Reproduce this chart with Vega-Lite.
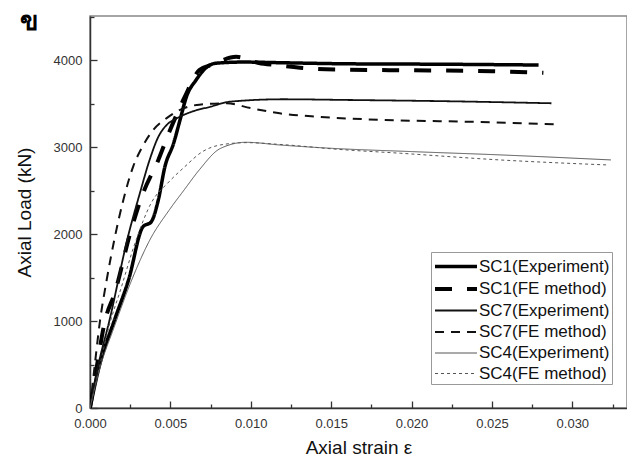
{
  "$schema": "https://vega.github.io/schema/vega-lite/v6.json",
  "autosize": {"type": "none"},
  "padding": {"left": 90, "top": 16, "right": 0, "bottom": 56},
  "width": 537,
  "height": 392,
  "background": "white",
  "config": {
    "view": {"stroke": "#888", "strokeWidth": 1.5},
    "font": "Liberation Sans"
  },
  "title": {
    "text": "ข",
    "anchor": "start",
    "frame": "group",
    "dx": -70,
    "dy": 41,
    "offset": 0,
    "baseline": "alphabetic",
    "fontSize": 27,
    "fontWeight": "bold",
    "font": "DejaVu Sans",
    "color": "#000"
  },
  "data": {
    "values": [
      {"s": "SC1(Experiment)", "x": 0, "y": 0},
      {"s": "SC1(Experiment)", "x": 0.0006, "y": 500},
      {"s": "SC1(Experiment)", "x": 0.0015, "y": 1000},
      {"s": "SC1(Experiment)", "x": 0.0024, "y": 1475},
      {"s": "SC1(Experiment)", "x": 0.0033, "y": 2087},
      {"s": "SC1(Experiment)", "x": 0.0038, "y": 2140},
      {"s": "SC1(Experiment)", "x": 0.00425, "y": 2394},
      {"s": "SC1(Experiment)", "x": 0.00466, "y": 2777},
      {"s": "SC1(Experiment)", "x": 0.0052, "y": 3046},
      {"s": "SC1(Experiment)", "x": 0.0056, "y": 3314},
      {"s": "SC1(Experiment)", "x": 0.006, "y": 3582},
      {"s": "SC1(Experiment)", "x": 0.0066, "y": 3774},
      {"s": "SC1(Experiment)", "x": 0.0073, "y": 3927},
      {"s": "SC1(Experiment)", "x": 0.0078, "y": 3966},
      {"s": "SC1(Experiment)", "x": 0.0095, "y": 3980},
      {"s": "SC1(Experiment)", "x": 0.012, "y": 3972},
      {"s": "SC1(Experiment)", "x": 0.016, "y": 3960},
      {"s": "SC1(Experiment)", "x": 0.022, "y": 3955},
      {"s": "SC1(Experiment)", "x": 0.0279, "y": 3946},

      {"s": "SC1(FE method)", "x": 0, "y": 0},
      {"s": "SC1(FE method)", "x": 0.0004, "y": 450},
      {"s": "SC1(FE method)", "x": 0.00093, "y": 1000},
      {"s": "SC1(FE method)", "x": 0.00155, "y": 1330},
      {"s": "SC1(FE method)", "x": 0.0025, "y": 2011},
      {"s": "SC1(FE method)", "x": 0.0033, "y": 2471},
      {"s": "SC1(FE method)", "x": 0.00425, "y": 2854},
      {"s": "SC1(FE method)", "x": 0.0049, "y": 3161},
      {"s": "SC1(FE method)", "x": 0.0059, "y": 3582},
      {"s": "SC1(FE method)", "x": 0.0068, "y": 3888},
      {"s": "SC1(FE method)", "x": 0.0076, "y": 3950},
      {"s": "SC1(FE method)", "x": 0.0091, "y": 4040},
      {"s": "SC1(FE method)", "x": 0.0105, "y": 3970},
      {"s": "SC1(FE method)", "x": 0.0116, "y": 3946},
      {"s": "SC1(FE method)", "x": 0.0135, "y": 3908},
      {"s": "SC1(FE method)", "x": 0.016, "y": 3892},
      {"s": "SC1(FE method)", "x": 0.02, "y": 3885},
      {"s": "SC1(FE method)", "x": 0.025, "y": 3875},
      {"s": "SC1(FE method)", "x": 0.0282, "y": 3857},

      {"s": "SC7(Experiment)", "x": 0, "y": 0},
      {"s": "SC7(Experiment)", "x": 0.0005, "y": 480},
      {"s": "SC7(Experiment)", "x": 0.0012, "y": 1000},
      {"s": "SC7(Experiment)", "x": 0.0024, "y": 2000},
      {"s": "SC7(Experiment)", "x": 0.0031, "y": 2470},
      {"s": "SC7(Experiment)", "x": 0.0037, "y": 2850},
      {"s": "SC7(Experiment)", "x": 0.00425, "y": 3120},
      {"s": "SC7(Experiment)", "x": 0.00477, "y": 3257},
      {"s": "SC7(Experiment)", "x": 0.0054, "y": 3333},
      {"s": "SC7(Experiment)", "x": 0.0062, "y": 3400},
      {"s": "SC7(Experiment)", "x": 0.0075, "y": 3467},
      {"s": "SC7(Experiment)", "x": 0.0087, "y": 3524},
      {"s": "SC7(Experiment)", "x": 0.012, "y": 3552},
      {"s": "SC7(Experiment)", "x": 0.016, "y": 3544},
      {"s": "SC7(Experiment)", "x": 0.022, "y": 3530},
      {"s": "SC7(Experiment)", "x": 0.0287, "y": 3506},

      {"s": "SC7(FE method)", "x": 0, "y": 0},
      {"s": "SC7(FE method)", "x": 0.0003, "y": 500},
      {"s": "SC7(FE method)", "x": 0.00062, "y": 1000},
      {"s": "SC7(FE method)", "x": 0.00104, "y": 1475},
      {"s": "SC7(FE method)", "x": 0.00155, "y": 1970},
      {"s": "SC7(FE method)", "x": 0.00207, "y": 2390},
      {"s": "SC7(FE method)", "x": 0.00269, "y": 2780},
      {"s": "SC7(FE method)", "x": 0.00321, "y": 2990},
      {"s": "SC7(FE method)", "x": 0.00394, "y": 3200},
      {"s": "SC7(FE method)", "x": 0.00477, "y": 3335},
      {"s": "SC7(FE method)", "x": 0.0056, "y": 3430},
      {"s": "SC7(FE method)", "x": 0.0068, "y": 3490},
      {"s": "SC7(FE method)", "x": 0.0085, "y": 3505},
      {"s": "SC7(FE method)", "x": 0.01, "y": 3450},
      {"s": "SC7(FE method)", "x": 0.0118, "y": 3390},
      {"s": "SC7(FE method)", "x": 0.0143, "y": 3350},
      {"s": "SC7(FE method)", "x": 0.019, "y": 3310},
      {"s": "SC7(FE method)", "x": 0.0234, "y": 3294},
      {"s": "SC7(FE method)", "x": 0.0291, "y": 3264},

      {"s": "SC4(Experiment)", "x": 0, "y": 0},
      {"s": "SC4(Experiment)", "x": 0.0006, "y": 450},
      {"s": "SC4(Experiment)", "x": 0.0015, "y": 930},
      {"s": "SC4(Experiment)", "x": 0.0026, "y": 1475},
      {"s": "SC4(Experiment)", "x": 0.0038, "y": 1960},
      {"s": "SC4(Experiment)", "x": 0.0049, "y": 2270},
      {"s": "SC4(Experiment)", "x": 0.0059, "y": 2520},
      {"s": "SC4(Experiment)", "x": 0.0068, "y": 2740},
      {"s": "SC4(Experiment)", "x": 0.0081, "y": 2985},
      {"s": "SC4(Experiment)", "x": 0.0097, "y": 3057},
      {"s": "SC4(Experiment)", "x": 0.0118, "y": 3026},
      {"s": "SC4(Experiment)", "x": 0.0149, "y": 2989},
      {"s": "SC4(Experiment)", "x": 0.02, "y": 2950},
      {"s": "SC4(Experiment)", "x": 0.0255, "y": 2912},
      {"s": "SC4(Experiment)", "x": 0.0324, "y": 2854},

      {"s": "SC4(FE method)", "x": 0, "y": 0},
      {"s": "SC4(FE method)", "x": 0.0006, "y": 480},
      {"s": "SC4(FE method)", "x": 0.0012, "y": 950},
      {"s": "SC4(FE method)", "x": 0.0019, "y": 1360},
      {"s": "SC4(FE method)", "x": 0.0028, "y": 1897},
      {"s": "SC4(FE method)", "x": 0.0038, "y": 2356},
      {"s": "SC4(FE method)", "x": 0.0049, "y": 2600},
      {"s": "SC4(FE method)", "x": 0.0059, "y": 2777},
      {"s": "SC4(FE method)", "x": 0.007, "y": 2950},
      {"s": "SC4(FE method)", "x": 0.0081, "y": 3026},
      {"s": "SC4(FE method)", "x": 0.0097, "y": 3053},
      {"s": "SC4(FE method)", "x": 0.012, "y": 3030},
      {"s": "SC4(FE method)", "x": 0.0155, "y": 2975},
      {"s": "SC4(FE method)", "x": 0.0193, "y": 2931},
      {"s": "SC4(FE method)", "x": 0.0255, "y": 2854},
      {"s": "SC4(FE method)", "x": 0.0321, "y": 2797}
    ]
  },
  "mark": {"type": "line", "interpolate": "monotone", "clip": true},
  "encoding": {
    "x": {
      "field": "x",
      "type": "quantitative",
      "scale": {"domain": [0, 0.0334], "nice": false, "zero": false},
      "axis": {
        "title": "Axial strain ε",
        "titleFontSize": 19,
        "titleFontWeight": "normal",
        "titleColor": "#111",
        "titlePadding": 8,
        "values": [0, 0.0025, 0.005, 0.0075, 0.01, 0.0125, 0.015, 0.0175, 0.02, 0.0225, 0.025, 0.0275, 0.03, 0.0325],
        "format": ".3f",
        "labelExpr": "round(datum.value * 10000) % 50 === 0 ? datum.label : ''",
        "labelFontSize": 13,
        "labelColor": "#333",
        "labelPadding": 16,
        "labelFlush": false,
        "grid": false,
        "domainColor": "#333",
        "domainWidth": 1.5,
        "tickColor": "#333",
        "tickWidth": 1.3,
        "tickSize": {"condition": {"test": "round(datum.value * 10000) % 50 === 0", "value": -7}, "value": -4}
      }
    },
    "y": {
      "field": "y",
      "type": "quantitative",
      "scale": {"domain": [0, 4510], "nice": false},
      "axis": {
        "title": "Axial Load (kN)",
        "titleFontSize": 19,
        "titleFontWeight": "normal",
        "titleColor": "#111",
        "titlePadding": 19,
        "values": [0, 500, 1000, 1500, 2000, 2500, 3000, 3500, 4000, 4500],
        "labelExpr": "datum.value % 1000 === 0 ? datum.label : ''",
        "format": "d",
        "labelFontSize": 13,
        "labelColor": "#333",
        "labelPadding": 15,
        "labelFlush": false,
        "grid": false,
        "domainColor": "#333",
        "domainWidth": 1.5,
        "tickColor": "#333",
        "tickWidth": 1.3,
        "tickSize": {"condition": {"test": "datum.value % 1000 === 0", "value": -7}, "value": -4}
      }
    },
    "detail": {"field": "s"},
    "color": {
      "field": "s",
      "type": "nominal",
      "scale": {
        "domain": ["SC1(Experiment)", "SC1(FE method)", "SC7(Experiment)", "SC7(FE method)", "SC4(Experiment)", "SC4(FE method)"],
        "range": ["#000000", "#000000", "#111111", "#111111", "#555555", "#555555"]
      },
      "legend": {
        "title": null,
        "orient": "none",
        "legendX": 341,
        "legendY": 236,
        "symbolType": "M-1,0L3,0",
        "symbolSize": 441,
        "labelFontSize": 17,
        "labelColor": "#111",
        "labelLimit": 400,
        "labelOffset": 21,
        "rowPadding": 1.5,
        "padding": 2,
        "strokeColor": "#999",
        "fillColor": "white"
      }
    },
    "strokeDash": {
      "field": "s",
      "type": "nominal",
      "scale": {
        "domain": ["SC1(Experiment)", "SC1(FE method)", "SC7(Experiment)", "SC7(FE method)", "SC4(Experiment)", "SC4(FE method)"],
        "range": [[1, 0], [17, 15], [1, 0], [9, 7], [1, 0], [3, 3]]
      }
    },
    "strokeWidth": {
      "field": "s",
      "type": "nominal",
      "scale": {
        "type": "ordinal",
        "domain": ["SC1(Experiment)", "SC1(FE method)", "SC7(Experiment)", "SC7(FE method)", "SC4(Experiment)", "SC4(FE method)"],
        "range": [3.5, 4, 1.8, 2, 1, 1]
      }
    }
  }
}
